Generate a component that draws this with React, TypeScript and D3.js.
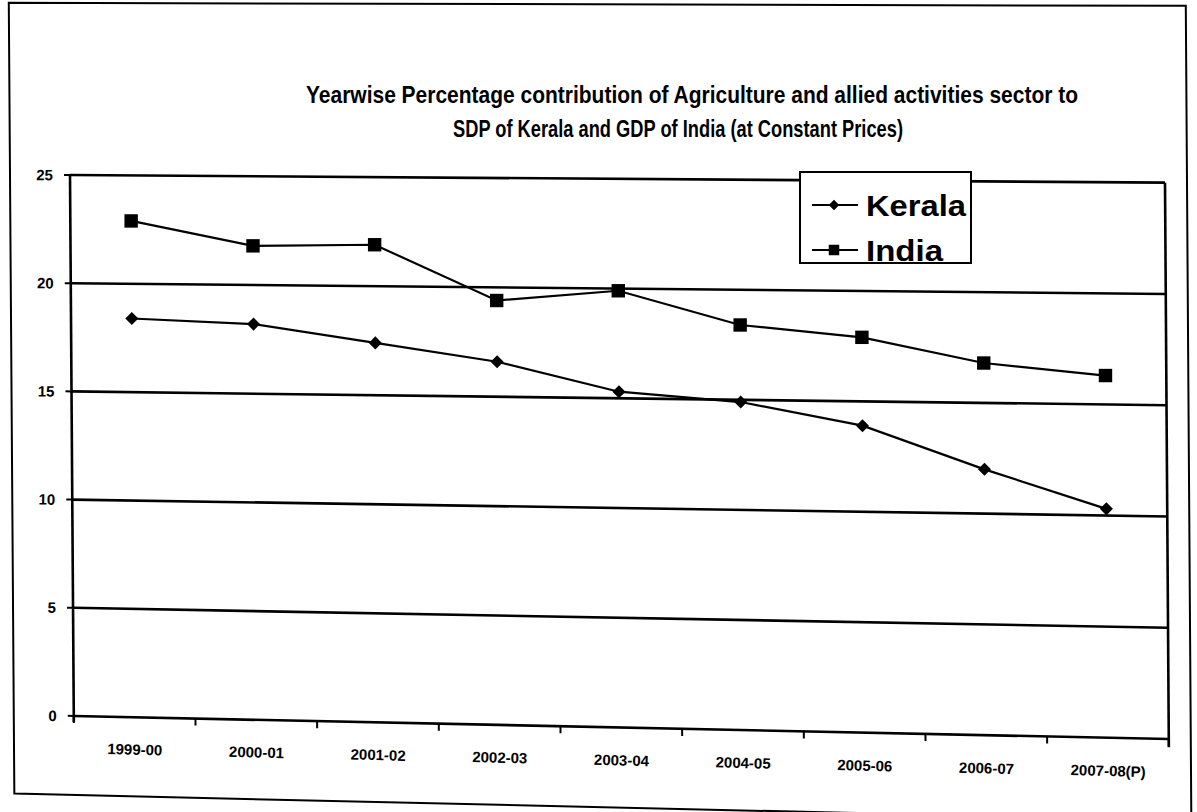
import React from 'react';
import * as d3 from 'd3';

// ---------- data ----------
const categories = ['1999-00', '2000-01', '2001-02', '2002-03', '2003-04', '2004-05', '2005-06', '2006-07', '2007-08(P)'];
const keralaValues = [18.4, 18.2, 17.4, 16.6, 15.3, 14.9, 13.9, 12.0, 10.3];
const indiaValues = [22.9, 21.8, 21.9, 19.4, 19.9, 18.4, 17.9, 16.8, 16.3];
const yTicks = [0, 5, 10, 15, 20, 25];
const seriesNames = ['Kerala', 'India'];
const titleLines = [
  'Yearwise Percentage contribution of Agriculture and allied activities sector  to',
  'SDP of Kerala and GDP of India (at Constant Prices)',
];

// ---------- layout ----------
const W = 1197;
const H = 812;
const plot = { left: 70, right: 1165, top: 175, bottom: 716 };
const FONT = '"Liberation Sans", Arial, Helvetica, sans-serif';

const x = d3.scaleBand<string>().domain(categories).range([plot.left, plot.right]);
const y = d3.scaleLinear().domain([0, 25]).range([plot.bottom, plot.top]);
const cx = (c: string) => (x(c) as number) + x.bandwidth() / 2;

// scanned page is slightly sheared: mimic with a gentle warp
const S_TOP = 0.007;
const S_BOT = 0.021;
const C = 0.007;
const slope = (fy: number) => S_TOP + ((S_BOT - S_TOP) * (fy - plot.top)) / (plot.bottom - plot.top);
const warp = (fx: number, fy: number): [number, number] => [fx + C * (fy - plot.top), fy + (fx - plot.left) * slope(fy)];
const ang = (fy: number) => (Math.atan(slope(fy)) * 180) / Math.PI;
const seg = (x1: number, y1: number, x2: number, y2: number) => {
  const a = warp(x1, y1);
  const b = warp(x2, y2);
  return { x1: a[0], y1: a[1], x2: b[0], y2: b[1] };
};

const lineGen = d3.line<[number, number]>().x((d) => d[0]).y((d) => d[1]);
const squarePath = d3.symbol().type(d3.symbolSquare).size(180)() as string;
const diamondPath = d3.symbol().type(d3.symbolSquare).size(85)() as string;
const legSquare = d3.symbol().type(d3.symbolSquare).size(110)() as string;
const legDiamond = d3.symbol().type(d3.symbolSquare).size(55)() as string;

export default function App() {
  const series = [
    { name: seriesNames[0], values: keralaValues, marker: diamondPath, rot: 45 },
    { name: seriesNames[1], values: indiaValues, marker: squarePath, rot: 0 },
  ];
  const boundaries = [...categories.map((c) => x(c) as number), plot.right];
  const frame = [warp(10, 3), warp(1187, 3), warp(1187, 795), warp(10, 795)];

  return (
    <svg width={W} height={H} style={{ position: 'absolute', left: 0, top: 0, background: '#fff' }} fontFamily={FONT}>
      <rect x={0} y={0} width={W} height={H} fill="#fff" />
      {/* outer frame */}
      <polygon points={frame.map((p) => p.join(',')).join(' ')} fill="none" stroke="#000" strokeWidth={2} />

      {/* title */}
      <text x={306} y={103} fontSize={24} fontWeight="bold" textLength={772} lengthAdjust="spacingAndGlyphs" fill="#000">
        {titleLines[0]}
      </text>
      <text x={453} y={137} fontSize={24} fontWeight="bold" textLength={450} lengthAdjust="spacingAndGlyphs" fill="#000">
        {titleLines[1]}
      </text>

      {/* gridlines */}
      {yTicks.map((v) => (
        <line key={'g' + v} {...seg(plot.left, y(v), plot.right, y(v))} stroke="#000" strokeWidth={2.6} />
      ))}
      {/* axes / borders */}
      <line {...seg(plot.left, plot.top, plot.left, plot.bottom + 6)} stroke="#000" strokeWidth={2.6} />
      <line {...seg(plot.right, plot.top, plot.right, plot.bottom + 8)} stroke="#000" strokeWidth={2.6} />
      {yTicks.map((v) => (
        <line key={'t' + v} {...seg(plot.left - 6, y(v), plot.left, y(v))} stroke="#000" strokeWidth={2} />
      ))}
      {boundaries.map((b, i) => (
        <line key={'xt' + i} {...seg(b, plot.bottom, b, plot.bottom + 7)} stroke="#000" strokeWidth={2} />
      ))}

      {/* y labels */}
      {yTicks.map((v) => {
        const [px, py] = warp(53, y(v));
        return (
          <text key={'yl' + v} transform={`translate(${px},${py}) rotate(${ang(y(v))})`} textAnchor="end" dominantBaseline="central" fontSize={15} fontWeight="bold">
            {v}
          </text>
        );
      })}
      {/* x labels */}
      {categories.map((c) => {
        const fy = 748;
        const [px, py] = warp(cx(c), fy);
        return (
          <text key={'xl' + c} transform={`translate(${px},${py}) rotate(${ang(fy) + 0.3})`} textAnchor="middle" dominantBaseline="central" fontSize={15} fontWeight="bold">
            {c}
          </text>
        );
      })}

      {/* series */}
      {series.map((s) => {
        const pts = s.values.map((v, i) => warp(cx(categories[i]), y(v)));
        return (
          <g key={s.name}>
            <path d={lineGen(pts) as string} fill="none" stroke="#000" strokeWidth={2.2} />
            {pts.map((p, i) => (
              <path key={i} d={s.marker} transform={`translate(${p[0]},${p[1]}) rotate(${s.rot})`} fill="#000" />
            ))}
          </g>
        );
      })}

      {/* legend */}
      <g>
        <rect x={800} y={172} width={171} height={91} fill="#fff" stroke="#000" strokeWidth={2} />
        <line x1={812} y1={205} x2={858} y2={205} stroke="#000" strokeWidth={2.2} />
        <path d={legDiamond} transform="translate(834,205) rotate(45)" fill="#000" />
        <text x={866} y={205} dominantBaseline="central" fontSize={30} fontWeight="bold" textLength={100} lengthAdjust="spacingAndGlyphs">
          {seriesNames[0]}
        </text>
        <line x1={812} y1={250} x2={858} y2={250} stroke="#000" strokeWidth={2.2} />
        <path d={legSquare} transform="translate(834,250)" fill="#000" />
        <text x={866} y={250} dominantBaseline="central" fontSize={30} fontWeight="bold" textLength={77} lengthAdjust="spacingAndGlyphs">
          {seriesNames[1]}
        </text>
      </g>
    </svg>
  );
}
